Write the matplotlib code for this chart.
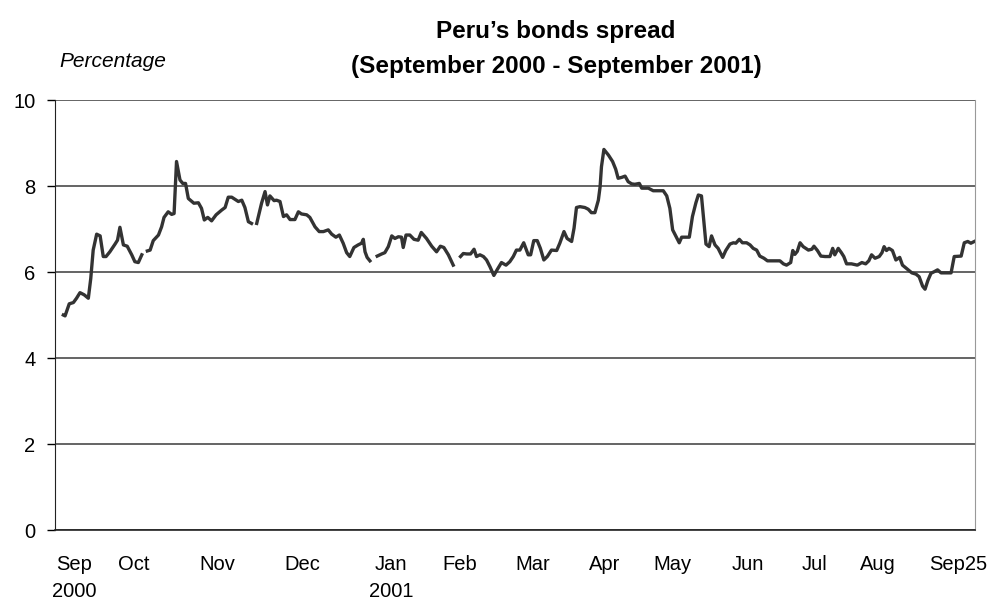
import numpy as np
import matplotlib
matplotlib.use("Agg")
import matplotlib.pyplot as plt

# =========================
# 1. DATA
# =========================

nan = np.nan

# trading-day position along the axis
day = [
    2.4, 2.9, 4.1, 5.3, 6.2, 7.2, 8.4, 9.6, 10.3, 11.0, 12.0, 13.0, 13.9, 14.7, 15.8, 17.3, 18.0, 18.7,
    19.7, 20.8, 22.1, 23.0, 24.0, 25.0, 25.8, 26.6, 27.4, 28.3, 29.8, 30.7, 31.4, 32.6, 33.6, 34.3,
    35.0, 36.0, 36.8, 37.6, 38.4, 40.0, 41.3, 42.2, 43.0, 44.0, 45.1, 46.4, 48.0, 49.0, 49.9, 50.9,
    52.8, 53.8, 54.7, 55.7, 56.6, 57.3, 58.1, 59.5, 60.5, 61.2, 61.9, 63.1, 63.8, 64.8, 65.8, 66.7,
    67.7, 69.1, 70.1, 71.0, 72.5, 73.4, 74.9, 76.1, 77.3, 78.7, 79.7, 80.9, 81.9, 83.0, 84.0, 84.9,
    86.1, 87.3, 88.3, 88.8, 89.3, 89.9, 90.7, 91.8, 92.8, 94.1, 95.0, 96.0, 97.0, 97.9, 98.9, 99.8,
    100.3, 101.1, 102.2, 103.4, 104.6, 105.5, 107.0, 108.5, 109.9, 111.0, 112.0, 113.3, 114.7, 115.8,
    116.8, 117.6, 118.6, 119.7, 120.7, 121.4, 122.4, 123.4, 124.3, 125.3, 126.4, 127.4, 128.6, 129.9,
    131.0, 132.0, 132.9, 133.9, 135.0, 136.3, 137.0, 137.9, 138.9, 139.8, 140.8, 141.8, 143.0, 144.5,
    145.4, 146.6, 147.5, 148.8, 149.5, 150.2, 151.2, 152.6, 153.6, 154.5, 155.5, 156.5, 157.0, 157.4,
    158.1, 159.4, 160.6, 161.5, 162.2, 163.2, 164.2, 165.1, 166.1, 167.0, 168.3, 169.0, 170.9, 172.3,
    175.2, 176.2, 177.1, 177.9, 178.8, 179.8, 180.5, 182.7, 183.6, 184.6, 185.3, 186.2, 186.9, 187.5,
    188.4, 189.1, 190.1, 191.0, 192.3, 193.2, 194.4, 195.4, 196.1, 197.1, 198.0, 199.2, 200.2, 201.1,
    202.1, 203.0, 204.2, 205.2, 208.8, 209.8, 210.7, 211.9, 212.5, 213.1, 213.8, 214.6, 215.5, 217.0,
    218.0, 218.6, 219.6, 220.6, 221.8, 223.2, 224.0, 224.6, 225.6, 226.5, 227.2, 228.0, 229.4, 231.1,
    232.4, 233.5, 234.4, 235.2, 236.2, 237.4, 238.2, 238.8, 239.5, 240.2, 241.2, 242.2, 243.3, 244.1,
    245.6, 246.8, 248.0, 248.9, 249.9, 250.6, 251.4, 252.3, 253.3, 254.2, 255.2, 258.1, 259.0, 261.0,
    261.9, 262.9, 263.8, 264.8,
]

# spread in percentage points (nan = missing data, line breaks)
spread = [
    5.00, 4.98, 5.26, 5.29, 5.39, 5.52, 5.47, 5.39, 5.85, 6.51, 6.88, 6.84, 6.36, 6.36, 6.47, 6.65, 6.74, 7.04,
    6.63, 6.60, 6.40, 6.24, 6.22, 6.40, nan, 6.49, 6.51, 6.73, 6.86, 7.05, 7.27, 7.40, 7.34, 7.36,
    8.57, 8.14, 8.06, 8.06, 7.71, 7.60, 7.61, 7.48, 7.21, 7.27, 7.19, 7.33, 7.44, 7.50, 7.74, 7.74,
    7.64, 7.67, 7.50, 7.17, 7.13, nan, 7.13, 7.60, 7.87, 7.56, 7.77, 7.66, 7.67, 7.64, 7.29, 7.33,
    7.22, 7.22, 7.40, 7.35, 7.33, 7.27, 7.05, 6.94, 6.94, 6.98, 6.88, 6.81, 6.86, 6.67, 6.45, 6.36,
    6.57, 6.63, 6.67, 6.76, 6.47, 6.34, 6.26, nan, 6.37, 6.42, 6.45, 6.59, 6.84, 6.78, 6.82, 6.81,
    6.57, 6.86, 6.86, 6.76, 6.74, 6.92, 6.78, 6.60, 6.47, 6.60, 6.57, 6.40, 6.16, nan,
    6.36, 6.43, 6.42, 6.42, 6.53, 6.36, 6.40, 6.36, 6.28, 6.12, 5.92, 6.06, 6.22, 6.16,
    6.24, 6.36, 6.51, 6.51, 6.68, 6.40, 6.40, 6.73, 6.73, 6.55, 6.28, 6.36, 6.51, 6.50,
    6.67, 6.94, 6.78, 6.71, 7.02, 7.50, 7.52, 7.50, 7.46, 7.38, 7.38, 7.67, 7.98, 8.45,
    8.85, 8.72, 8.57, 8.39, 8.18, 8.20, 8.23, 8.10, 8.05, 8.04, 8.06, 7.95, 7.95, 7.89,
    7.89, 7.77, 7.48, 6.98, 6.84, 6.68, 6.81, 6.81, 7.29, 7.61, 7.79, 7.77, 7.17, 6.65,
    6.59, 6.84, 6.63, 6.55, 6.34, 6.50, 6.65, 6.68, 6.67, 6.76, 6.68, 6.68, 6.63, 6.55,
    6.51, 6.37, 6.32, 6.26, 6.26, 6.19, 6.16, 6.22, 6.50, 6.41, 6.48, 6.68, 6.59, 6.51,
    6.53, 6.60, 6.50, 6.37, 6.36, 6.36, 6.55, 6.40, 6.55, 6.45, 6.36, 6.19, 6.19, 6.16,
    6.22, 6.19, 6.26, 6.40, 6.32, 6.36, 6.45, 6.59, 6.50, 6.55, 6.50, 6.28, 6.34, 6.16,
    6.06, 5.98, 5.95, 5.89, 5.67, 5.60, 5.80, 5.97, 6.01, 6.05, 5.98, 5.98, 6.36, 6.37,
    6.68, 6.71, 6.67, 6.71,
]

month_pos = [5.5, 22.8, 46.7, 71.1, 96.8, 116.6, 137.7, 158.4, 177.7, 199.6, 218.9, 237.0, 260.1]
month_labels = ["Sep\n2000", "Oct", "Nov", "Dec", "Jan\n2001", "Feb", "Mar",
                "Apr", "May", "Jun", "Jul", "Aug", "Sep25"]

# =========================
# 2. FIGURE
# =========================

plt.rcParams["font.family"] = ["Liberation Sans", "DejaVu Sans"]

fig = plt.figure(figsize=(9.91, 6.01), dpi=100)
ax = fig.add_axes([0.0555, 0.1181, 0.9284, 0.7155])

ax.plot(day, spread, color="#333333", linewidth=2.4, solid_joinstyle="round")

ax.set_xlim(0, 265)
ax.set_ylim(0, 10)
ax.set_yticks([0, 2, 4, 6, 8, 10])
ax.grid(axis="y", color="#3a3a3a", linewidth=1.1)
ax.set_axisbelow(True)

ax.set_xticks(month_pos)
ax.set_xticklabels(month_labels, linespacing=1.5, va="top")
ax.tick_params(axis="x", length=0, pad=18, labelsize=14.5)
ax.tick_params(axis="y", length=6, width=1, direction="out", pad=8, labelsize=14.5)

ax.spines["top"].set_visible(False)
ax.spines["right"].set_color("#999999")
ax.spines["left"].set_color("#222222")
ax.spines["bottom"].set_color("#222222")
ax.spines["bottom"].set_linewidth(1.2)

# title: two bold lines, a bit right of the plot centre
fig.text(0.561, 0.937, "Peru\u2019s bonds spread", ha="center", va="baseline",
         fontsize=17.5, fontweight="bold")
fig.text(0.561, 0.8785, "(September 2000 - September 2001)", ha="center", va="baseline",
         fontsize=17.5, fontweight="bold")
fig.text(0.06, 0.889, "Percentage", ha="left", va="baseline", fontsize=15, style="italic")

fig.savefig("out.png", dpi=100)
